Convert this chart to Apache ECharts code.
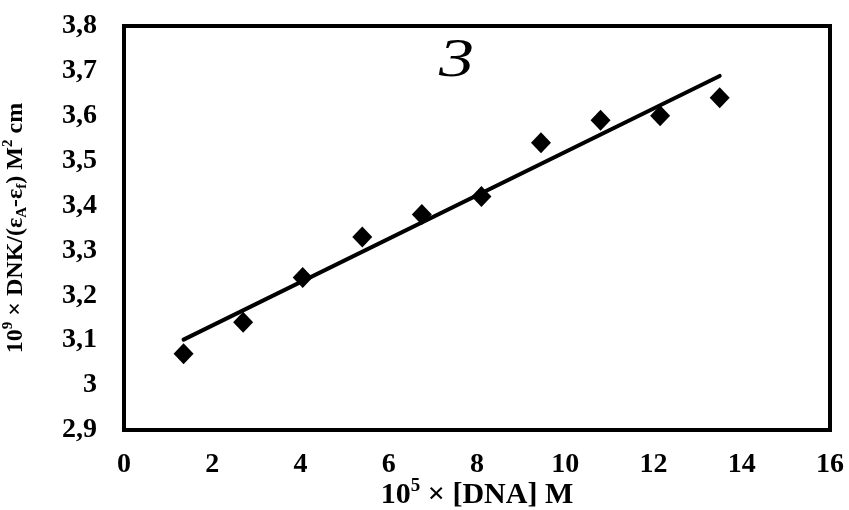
<!DOCTYPE html>
<html>
<head>
<meta charset="utf-8">
<script src="https://cdn.jsdelivr.net/npm/echarts@6/dist/echarts.min.js"></script>
<style>
  html, body { margin: 0; padding: 0; background: #fff; }
  #chart { width: 849px; height: 510px; }
</style>
</head>
<body>
<div id="chart"></div>
<script>
// DNA concentration (×10^5 M) and the corresponding reciprocal values
const dnaConc = [1.35, 2.7, 4.05, 5.4, 6.75, 8.1, 9.45, 10.8, 12.15, 13.5];
const ratioValues = [3.07, 3.14, 3.24, 3.33, 3.38, 3.42, 3.54, 3.59, 3.60, 3.64];
const panelLabel = '3';

const FONT = '"Liberation Serif", "Times New Roman", serif';

// Least-squares linear trend over the measured points
function linearFit(xs, ys) {
  const n = xs.length;
  const mx = xs.reduce((a, b) => a + b, 0) / n;
  const my = ys.reduce((a, b) => a + b, 0) / n;
  let sxy = 0, sxx = 0;
  for (let i = 0; i < n; i++) {
    sxy += (xs[i] - mx) * (ys[i] - my);
    sxx += (xs[i] - mx) * (xs[i] - mx);
  }
  const k = sxy / sxx;
  return { k: k, b: my - k * mx };
}
const fit = linearFit(dnaConc, ratioValues);
const xFirst = Math.min.apply(null, dnaConc);
const xLast = Math.max.apply(null, dnaConc);
const trend = [[xFirst, fit.k * xFirst + fit.b], [xLast, fit.k * xLast + fit.b]];

function richFor(size) {
  const small = Math.round(size * 0.62);
  const lh = Math.round(size * 1.2);
  const slh = Math.round(small * 1.1);
  return {
    b: { fontFamily: FONT, fontWeight: 'bold', fontSize: size, color: '#000', lineHeight: lh, verticalAlign: 'middle' },
    sup: { fontFamily: FONT, fontWeight: 'bold', fontSize: small, color: '#000', lineHeight: slh, verticalAlign: 'top' },
    sub: { fontFamily: FONT, fontWeight: 'bold', fontSize: small, color: '#000', lineHeight: slh, verticalAlign: 'bottom' }
  };
}

const chart = echarts.init(document.getElementById('chart'), null, { renderer: 'canvas' });
chart.setOption({
  animation: false,
  backgroundColor: '#fff',
  grid: {
    left: 124, right: 19, top: 26, bottom: 80,
    outerBoundsMode: 'none', containLabel: false,
    show: true, borderColor: '#000', borderWidth: 4, backgroundColor: 'transparent'
  },
  xAxis: {
    type: 'value', min: 0, max: 16, interval: 2,
    axisLine: { show: false }, axisTick: { show: false }, splitLine: { show: false },
    axisLabel: { margin: 21, fontFamily: FONT, fontWeight: 'bold', fontSize: 28, color: '#000' },
    name: '{b|10}{sup|5}{b| × [DNA] M}',
    nameLocation: 'middle', nameGap: 47, nameMoveOverlap: false,
    nameTextStyle: { rich: richFor(30) }
  },
  yAxis: {
    type: 'value', min: 2.9, max: 3.8, interval: 0.1,
    axisLine: { show: false }, axisTick: { show: false }, splitLine: { show: false },
    axisLabel: {
      margin: 27, fontFamily: FONT, fontWeight: 'bold', fontSize: 28, color: '#000',
      formatter: function (v) { return String(Math.round(v * 10) / 10).replace('.', ','); }
    },
    name: '{b|10}{sup|9}{b| × DNK/(ε}{sub|A}{b|-ε}{sub|f}{b|) M}{sup|2}{b| cm}',
    nameLocation: 'middle', nameGap: 94, nameRotate: 90, nameMoveOverlap: false,
    nameTextStyle: { rich: richFor(24) }
  },
  series: [
    {
      type: 'line', data: trend, symbol: 'none', silent: true,
      lineStyle: { color: '#000', width: 4, cap: 'round' }, z: 2
    },
    {
      type: 'scatter', data: dnaConc.map((x, i) => [x, ratioValues[i]]),
      symbol: 'diamond', symbolSize: [20, 21],
      itemStyle: { color: '#000', opacity: 1 }, z: 3
    }
  ],
  graphic: [
    {
      type: 'text', x: 439, y: 35, scaleX: 1.3,
      style: { text: panelLabel, font: 'italic 54px ' + FONT, fill: '#000' }
    }
  ]
});
</script>
</body>
</html>
